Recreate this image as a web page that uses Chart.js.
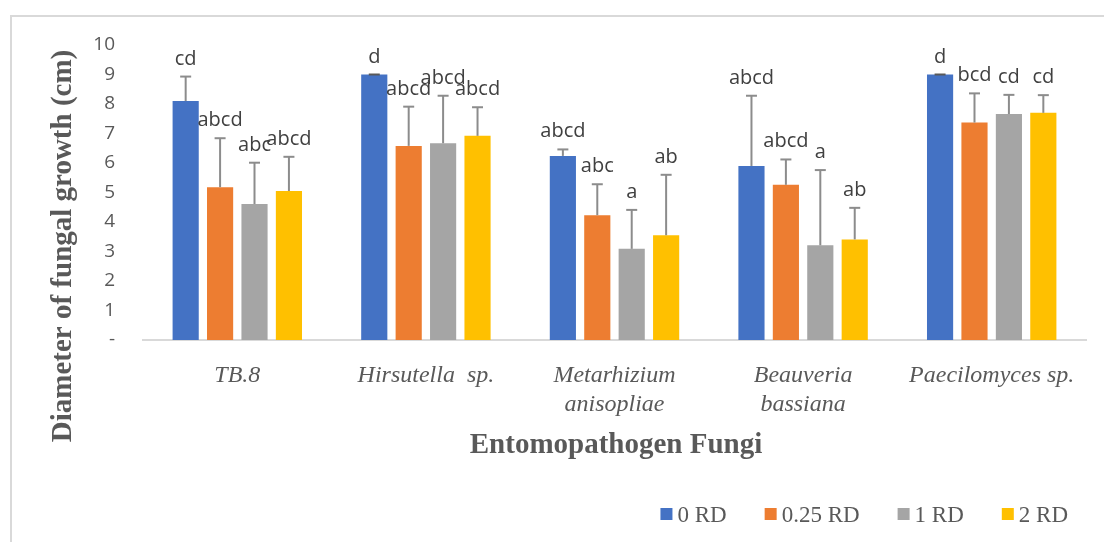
<!DOCTYPE html>
<html>
<head>
<meta charset="utf-8">
<script src="https://cdn.jsdelivr.net/npm/chart.js@4.4.1/dist/chart.umd.min.js"></script>
<style>
  html, body { margin: 0; padding: 0; background: #fff; }
  #wrap { width: 1104px; height: 542px; position: relative; }
</style>
</head>
<body>
<div id="wrap"><canvas id="chart"></canvas></div>
<script>
// data
const categories = ['TB.8', 'Hirsutella  sp.', ['Metarhizium', 'anisopliae'], ['Beauveria', 'bassiana'], 'Paecilomyces sp.'];
const seriesNames = ['0 RD', '0.25 RD', '1 RD', '2 RD'];
const rd0 = [8.10, 9.00, 6.24, 5.90, 9.00];
const rd025 = [5.18, 6.58, 4.23, 5.26, 7.37];
const rd1 = [4.61, 6.67, 3.09, 3.21, 7.66];
const rd2 = [5.05, 6.92, 3.55, 3.41, 7.70];
const err0 = [0.83, 0.00, 0.22, 2.38, 0.00];
const err025 = [1.66, 1.33, 1.05, 0.86, 0.99];
const err1 = [1.40, 1.61, 1.32, 2.55, 0.65];
const err2 = [1.16, 0.97, 2.05, 1.07, 0.60];
const letters0 = ['cd', 'd', 'abcd', 'abcd', 'd'];
const letters025 = ['abcd', 'abcd', 'abc', 'abcd', 'bcd'];
const letters1 = ['abc', 'abcd', 'a', 'a', 'cd'];
const letters2 = ['abcd', 'abcd', 'ab', 'ab', 'cd'];
const yTicks = [0, 1, 2, 3, 4, 5, 6, 7, 8, 9, 10];

const colors = ['#4472C4', '#ED7D31', '#A5A5A5', '#FFC000'];
const values = [rd0, rd025, rd1, rd2];
const errors = [err0, err025, err1, err2];
const letters = [letters0, letters025, letters1, letters2];

const textGray = '#595959';
const serif = '"Liberation Serif", "Times New Roman", serif';

const extras = {
  id: 'extras',
  beforeDraw(chart) {
    const ctx = chart.ctx;
    ctx.save();
    ctx.strokeStyle = '#d9d9d9';
    ctx.lineWidth = 2;
    ctx.beginPath();
    ctx.moveTo(11, 542);
    ctx.lineTo(11, 16);
    ctx.lineTo(1104, 16);
    ctx.stroke();
    ctx.restore();
  },
  afterDatasetsDraw(chart) {
    const ctx = chart.ctx;
    const yScale = chart.scales.y;
    ctx.save();
    chart.data.datasets.forEach((ds, i) => {
      const meta = chart.getDatasetMeta(i);
      meta.data.forEach((bar, j) => {
        const top = yScale.getPixelForValue(ds.data[j] + errors[i][j]);
        ctx.strokeStyle = '#8c8c8c';
        ctx.lineWidth = 2;
        ctx.beginPath();
        ctx.moveTo(bar.x, bar.y);
        ctx.lineTo(bar.x, top);
        ctx.stroke();
        ctx.strokeStyle = errors[i][j] === 0 ? '#595959' : '#8c8c8c';
        ctx.beginPath();
        ctx.moveTo(bar.x - 5.5, top);
        ctx.lineTo(bar.x + 5.5, top);
        ctx.stroke();

        ctx.fillStyle = '#404040';
        ctx.font = '20px "Open Sans", sans-serif';
        ctx.textAlign = 'center';
        ctx.textBaseline = 'alphabetic';
        ctx.fillText(letters[i][j], bar.x, top - 12);
      });
    });
    ctx.restore();
  },
  afterDraw(chart) {
    const ctx = chart.ctx;
    ctx.save();
    ctx.fillStyle = textGray;
    // axis titles
    ctx.font = 'bold 29px ' + serif;
    ctx.textAlign = 'center';
    ctx.textBaseline = 'alphabetic';
    ctx.fillText('Entomopathogen Fungi', 616, 453);
    ctx.save();
    ctx.translate(71, 246);
    ctx.rotate(-Math.PI / 2);
    ctx.fillText('Diameter of fungal growth (cm)', 0, 0);
    ctx.restore();

    // legend, right aligned
    ctx.font = '23px ' + serif;
    ctx.textAlign = 'left';
    const box = 12, gapText = 5, gapItem = 38;
    const widths = seriesNames.map(n => box + gapText + ctx.measureText(n).width);
    const total = widths.reduce((a, b) => a + b, 0) + gapItem * (widths.length - 1);
    let x = 1068 - total;
    chart.data.datasets.forEach((ds, i) => {
      ctx.fillStyle = ds.backgroundColor;
      ctx.fillRect(x, 508, box, box);
      ctx.fillStyle = textGray;
      ctx.fillText(ds.label, x + box + gapText, 521.5);
      x += widths[i] + gapItem;
    });
    ctx.restore();
  }
};

new Chart(document.getElementById('chart'), {
  type: 'bar',
  data: {
    labels: categories,
    datasets: seriesNames.map((name, i) => ({
      label: name,
      data: values[i],
      backgroundColor: colors[i],
      borderWidth: 0,
      categoryPercentage: 0.73,
      barPercentage: 0.76
    }))
  },
  options: {
    responsive: true,
    maintainAspectRatio: false,
    animation: false,
    devicePixelRatio: 1,
    layout: { padding: { top: 45, right: 18, left: 0, bottom: 0 } },
    plugins: {
      legend: { display: false },
      tooltip: { enabled: false }
    },
    scales: {
      x: {
        afterFit: (s) => { s.height = 202; },
        grid: { display: false, drawTicks: false },
        border: { display: true, color: '#d9d9d9', width: 2 },
        ticks: {
          color: textGray,
          padding: 21,
          maxRotation: 0,
          autoSkip: false,
          font: { family: serif, size: 24, style: 'italic', lineHeight: 1.22 }
        }
      },
      y: {
        min: 0,
        max: 10,
        afterFit: (s) => { s.width = 143; },
        afterBuildTicks: (s) => { s.ticks = yTicks.map(v => ({ value: v })); },
        grid: { display: false, drawTicks: false },
        border: { display: false },
        ticks: {
          color: textGray,
          padding: 28,
          font: { family: '"Open Sans", sans-serif', size: 19 },
          callback: (v) => v === 0 ? '-' : v
        }
      }
    }
  },
  plugins: [extras]
});
</script>
</body>
</html>
